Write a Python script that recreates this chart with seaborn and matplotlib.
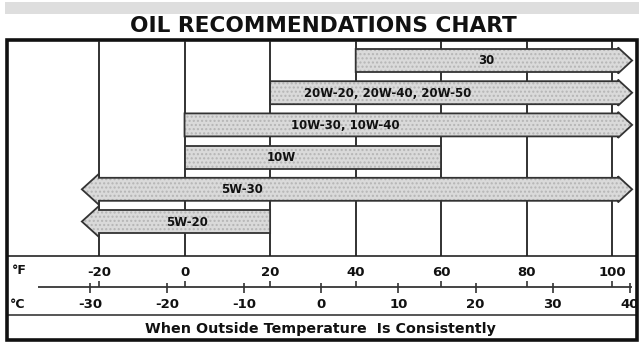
import numpy as np
import matplotlib
matplotlib.use("Agg")
import matplotlib.pyplot as plt
import seaborn as sns
from matplotlib.patches import Polygon, Rectangle

# ---- data ----
grades = ["30", "20W-20, 20W-40, 20W-50", "10W-30, 10W-40", "10W", "5W-30", "5W-20"]
low_f = [40, 20, 0, 0, -20, -20]
high_f = [100, 100, 100, 60, 100, 20]
open_low = [False, False, False, False, True, True]
open_high = [True, True, True, False, True, False]
label_f = [70.5, 47.5, 37.5, 22.5, 13.5, 0.5]

f_ticks = [-20, 0, 20, 40, 60, 80, 100]
c_ticks = [-30, -20, -10, 0, 10, 20, 30, 40]

title = "OIL RECOMMENDATIONS CHART"
subtitle = "When Outside Temperature  Is Consistently"

# ---- style ----
sns.set_theme(style="white")
plt.rcParams["font.family"] = ["DejaVu Sans"]

W, H = 639, 345
fig = plt.figure(figsize=(W / 100, H / 100), dpi=100)
fig.patch.set_facecolor("white")

# pixel overlay axes for frame/decoration
pax = fig.add_axes([0, 0, 1, 1], zorder=0)
pax.set_xlim(0, W)
pax.set_ylim(H, 0)
pax.axis("off")

# data axes: x in degrees F, y in pixel rows
ax = fig.add_axes([0, 0, 1, 1], zorder=1)
ax.patch.set_alpha(0)
slope = 4.279
x0px, f0 = 355.7, 40
ax.set_xlim(f0 - x0px / slope, f0 + (W - x0px) / slope)
ax.set_ylim(H, 0)
ax.axis("off")
sns.despine(ax=ax, left=True, bottom=True)

# top gray band
pax.add_patch(Rectangle((5, 2), W - 5, 12, facecolor="#dedede", edgecolor="none"))

# title
pax.text(323, 26, title, ha="center", va="center", fontsize=15.6,
         fontweight="bold", color="#111111")

# frame box
pax.add_patch(Rectangle((7, 40), 630, 300, facecolor="none", edgecolor="#111111",
                        linewidth=2.6, zorder=5))

# vertical grid lines at F ticks
ax.vlines(f_ticks, 41, 256, colors="#222222", linewidth=1.3, zorder=1)

# horizontal scale lines
pax.hlines(256, 8, 636, colors="#444444", linewidth=1.4, zorder=2)
pax.hlines(287, 38, 632, colors="#444444", linewidth=1.4, zorder=2)
pax.hlines(315, 8, 636, colors="#555555", linewidth=1.4, zorder=2)

# F scale ticks & labels
ax.vlines(f_ticks, 281, 287, colors="#333333", linewidth=1.2, zorder=2)
for f in f_ticks:
    ax.text(f, 272, f"{f}", ha="center", va="center", fontsize=9.5,
            fontweight="bold", color="#111111")

# C scale ticks & labels
c_as_f = [c * 9 / 5 + 32 for c in c_ticks]
ax.vlines(c_as_f, 283, 293, colors="#333333", linewidth=1.2, zorder=2)
for c, cf in zip(c_ticks, c_as_f):
    ax.text(cf, 305, f"{c}", ha="center", va="center", fontsize=9.5,
            fontweight="bold", color="#111111", clip_on=False)

pax.text(12, 271, "°F", ha="left", va="center", fontsize=9, fontweight="bold", color="#111111")
pax.text(10, 304, "°C", ha="left", va="center", fontsize=9, fontweight="bold", color="#111111")

pax.text(320, 329, subtitle, ha="center", va="center", fontsize=10.3,
         fontweight="bold", color="#111111")

# arrows
row0, row_step, bar_h = 60.5, 32.2, 23
head_over_r, head_over_l = 1.5, 4.0
r_body_ext, r_tip_ext = 1.3, 4.6
l_tip_ext = 4.0
for i, (g, lo, hi, ol, oh, lf) in enumerate(zip(grades, low_f, high_f, open_low, open_high, label_f)):
    yc = row0 + i * row_step
    top, bot = yc - bar_h / 2, yc + bar_h / 2
    pts = []
    if ol:
        pts += [(lo, bot), (lo, bot + head_over_l), (lo - l_tip_ext, yc),
                (lo, top - head_over_l), (lo, top)]
    else:
        pts += [(lo, bot), (lo, top)]
    if oh:
        re = hi + r_body_ext
        pts += [(re, top), (re, top - head_over_r), (hi + r_tip_ext, yc),
                (re, bot + head_over_r), (re, bot)]
    else:
        pts += [(hi, top), (hi, bot)]
    ax.add_patch(Polygon(pts, closed=True, facecolor="#dadada", edgecolor="#b5b5b5",
                         hatch="....", linewidth=0, zorder=3))
    ax.add_patch(Polygon(pts, closed=True, facecolor="none", edgecolor="#333333",
                         linewidth=1.3, zorder=4))
    ax.text(lf, yc + 0.5, g, ha="center", va="center", fontsize=8.5,
            fontweight="bold", color="#111111", zorder=6)

fig.savefig("out.png", dpi=100, facecolor="white")
